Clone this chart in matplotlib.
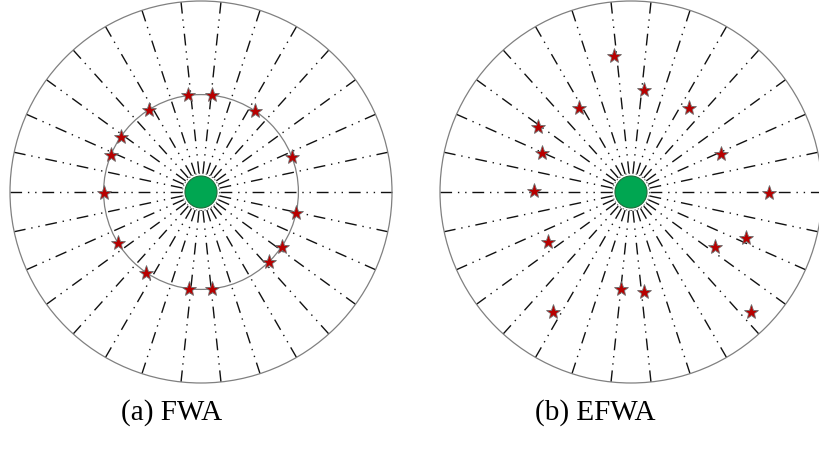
import numpy as np
import matplotlib.pyplot as plt
from matplotlib.patches import Circle

plt.rcParams['lines.scale_dashes'] = False

# ---- дані (одиниці: радіус зовнішнього кола = 1) ----
ray_angles = [0, 12, 24, 36, 48, 60, 72, 84, 96, 108, 120, 132, 144, 156, 168,
              180, 192, 204, 216, 228, 240, 252, 264, 276, 288, 300, 312, 324, 336, 348]

# FWA: іскри лежать на внутрішньому колі
fwa_radius = 0.51
fwa_star_angles = [97.6, 83.5, 122.6, 56.6, 145.3, 21.0, 157.9, 180.6, -12.3,
                   211.3, -34.2, -45.8, 235.8, 263.0, 276.3]

# EFWA: іскри розкидані
efwa_star_x = [-0.089, 0.068, -0.272, 0.304, -0.487, -0.466, 0.471, -0.508,
               0.723, -0.435, 0.602, 0.440, -0.052, 0.068, -0.408, 0.628]
efwa_star_y = [0.712, 0.534, 0.440, 0.440, 0.340, 0.204, 0.199, 0.005,
               -0.005, -0.262, -0.241, -0.288, -0.508, -0.524, -0.628, -0.628]

captions = ['(a) FWA', '(b) EFWA']

# ---- геометрія в пікселях ----
W, H = 819, 453
R_PX = 191.0
PX = 1.0 / R_PX          # один піксель у одиницях даних

fig = plt.figure(figsize=(W / 100, H / 100), dpi=100)


def make_ax(cx, cy):
    ax = fig.add_axes([(cx - R_PX) / W, (H - cy - R_PX) / H, 2 * R_PX / W, 2 * R_PX / H])
    ax.set_xlim(-1, 1)
    ax.set_ylim(-1, 1)
    ax.set_aspect('equal')
    ax.axis('off')
    return ax


def draw_base(ax):
    # штрих-пунктирні промені: штрих, точка, точка (в пунктах)
    ray_style = (0, (8.5, 4.2, 1.0, 4.2, 1.0, 4.2))
    r0 = 19 * PX
    for a in ray_angles:
        t = np.radians(a)
        ax.plot([r0 * np.cos(t), np.cos(t)], [r0 * np.sin(t), np.sin(t)],
                color='#111111', lw=1.0, linestyle=ray_style,
                dash_capstyle='butt', clip_on=False, zorder=2)
    ax.add_patch(Circle((0, 0), 1.0, fill=False, ec='#808080', lw=0.9,
                        clip_on=False, zorder=3))
    # маленьке пунктирне коло навколо центру
    ax.add_patch(Circle((0, 0), 18.5 * PX, fill=False, ec='#555555', lw=0.7,
                        ls=(0, (1, 1.5)), zorder=3))
    # центр вибуху
    ax.add_patch(Circle((0, 0), 16 * PX, fc='#00a651', ec='#1f6e3c', lw=0.8,
                        zorder=5))


star_kw = dict(marker='*', linestyle='none', ms=11, mfc='#b80000',
               mec='#6e6e6e', mew=0.6, zorder=6, clip_on=False)

# (a) FWA
ax_a = make_ax(201, 192)
draw_base(ax_a)
ax_a.add_patch(Circle((0, 0), fwa_radius, fill=False, ec='#808080', lw=0.9, zorder=3))
th = np.radians(fwa_star_angles)
ax_a.plot(fwa_radius * np.cos(th), fwa_radius * np.sin(th), **star_kw)

# (b) EFWA
ax_b = make_ax(631, 192)
draw_base(ax_b)
ax_b.plot(efwa_star_x, efwa_star_y, **star_kw)

# підписи
for x_px, txt in zip([172, 595], captions):
    fig.text(x_px / W, 1 - 413 / H, txt, ha='center', va='center',
             fontsize=21, family='Liberation Serif')

fig.savefig('out.png', dpi=100)
